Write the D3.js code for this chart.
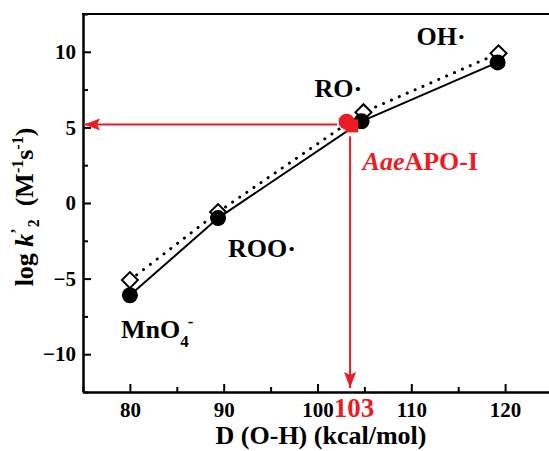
<!DOCTYPE html>
<html>
<head>
<meta charset="utf-8">
<script src="https://cdn.jsdelivr.net/npm/d3@7"></script>
<style>
  html, body { margin: 0; padding: 0; background: #fff; }
  svg { display: block; font-family: "Liberation Serif", "Times New Roman", serif; font-weight: bold; }
</style>
</head>
<body>
<svg id="chart" width="549" height="451"></svg>
<script>
// O-H bond energies (kcal/mol) and rate constants
const species = ['MnO4-', 'ROO·', 'RO·', 'OH·'];
const bdeCircle = [80, 89.4, 104.7, 119.2];
const logkCircle = [-6.1, -1.0, 5.4, 9.3];
const bdeDiamond = [80, 89.4, 104.9, 119.3];
const logkDiamond = [-5.1, -0.6, 6.0, 9.9];

// AaeAPO-I estimate
const enzymeBde = [103.1, 103.65];
const enzymeLogk = [5.38, 5.1];
const arrowAt = { x: 103.47, y: 5.2 };

const xMajor = [80, 90, 100, 110, 120];
const xMinor = [75, 85, 95, 105, 115, 125];
const yMajor = [-10, -5, 0, 5, 10];
const yMinor = [-12.5, -7.5, -2.5, 2.5, 7.5, 12.5];

const red = '#ed1c24';
const margin = { top: 14, left: 83 };
const width = 469, height = 378;

const svg = d3.select('#chart');
const g = svg.append('g').attr('transform', `translate(${margin.left},${margin.top})`);

const x = d3.scaleLinear().domain([75, 125]).range([0, width]);
const y = d3.scaleLinear().domain([-12.5, 12.5]).range([height, 0]);

// axes, ticks pointing inward
function styleAxis(sel) {
  sel.selectAll('path, line').attr('stroke', '#000').attr('stroke-width', 2);
  sel.selectAll('text').attr('fill', '#000').style('font-size', '21px')
    .style('font-family', '"Liberation Serif", "Times New Roman", serif').style('font-weight', 'bold');
}

g.append('g')
  .call(d3.axisLeft(y).tickValues(yMinor).tickSizeInner(-5).tickSizeOuter(0).tickFormat(''))
  .call(styleAxis);
g.append('g')
  .call(d3.axisLeft(y).tickValues(yMajor).tickSizeInner(-8).tickSizeOuter(0).tickPadding(7).tickFormat(d3.format('d')))
  .call(styleAxis);

g.append('g').attr('transform', `translate(0,${height})`)
  .call(d3.axisBottom(x).tickValues(xMinor).tickSizeInner(-5).tickSizeOuter(0).tickFormat(''))
  .call(styleAxis);
g.append('g').attr('transform', `translate(0,${height})`)
  .call(d3.axisBottom(x).tickValues(xMajor).tickSizeInner(-8).tickSizeOuter(0).tickPadding(10).tickFormat(d3.format('d')))
  .call(styleAxis);

// top frame line
g.append('line')
  .attr('x1', -1).attr('x2', width).attr('y1', 0).attr('y2', 0)
  .attr('stroke', '#000').attr('stroke-width', 2);

// red guide arrows
svg.append('defs').append('marker')
  .attr('id', 'arrow').attr('viewBox', '0 0 16 12')
  .attr('refX', 16).attr('refY', 6)
  .attr('markerWidth', 16).attr('markerHeight', 12)
  .attr('markerUnits', 'userSpaceOnUse').attr('orient', 'auto')
  .append('path').attr('d', 'M0,0 L16,6 L0,12 L3,6 Z').attr('fill', red);

g.append('line')
  .attr('x1', x(arrowAt.x) - 13).attr('x2', 1)
  .attr('y1', y(arrowAt.y)).attr('y2', y(arrowAt.y))
  .attr('stroke', red).attr('stroke-width', 2).attr('marker-end', 'url(#arrow)');
g.append('line')
  .attr('x1', x(arrowAt.x)).attr('x2', x(arrowAt.x))
  .attr('y1', y(arrowAt.y) + 12).attr('y2', height - 4)
  .attr('stroke', red).attr('stroke-width', 2).attr('marker-end', 'url(#arrow)');

// series
const circles = bdeCircle.map((v, i) => ({ x: v, y: logkCircle[i], name: species[i] }));
const diamonds = bdeDiamond.map((v, i) => ({ x: v, y: logkDiamond[i] }));
const line = d3.line().x(d => x(d.x)).y(d => y(d.y));

g.append('path').datum(diamonds).attr('d', line)
  .attr('fill', 'none').attr('stroke', '#000').attr('stroke-width', 3)
  .attr('stroke-linecap', 'round').attr('stroke-dasharray', '0.1,8.5');
g.append('path').datum(circles).attr('d', line)
  .attr('fill', 'none').attr('stroke', '#000').attr('stroke-width', 2);

g.selectAll('path.diamond').data(diamonds).enter().append('path')
  .attr('class', 'diamond')
  .attr('d', d3.symbol().type(d3.symbolSquare).size(128))
  .attr('transform', d => `translate(${x(d.x)},${y(d.y)}) rotate(45)`)
  .attr('fill', '#fff').attr('stroke', '#000').attr('stroke-width', 2);

g.selectAll('circle.pt').data(circles).enter().append('circle')
  .attr('class', 'pt')
  .attr('cx', d => x(d.x)).attr('cy', d => y(d.y)).attr('r', 8)
  .attr('fill', '#000');

// enzyme marker: circle + square
g.append('circle')
  .attr('cx', x(enzymeBde[0])).attr('cy', y(enzymeLogk[0])).attr('r', 8)
  .attr('fill', red);
g.append('rect')
  .attr('x', x(enzymeBde[1]) - 6.5).attr('y', y(enzymeLogk[1]) - 6.5)
  .attr('width', 13).attr('height', 13).attr('fill', red);

// species labels
const labelOffsets = [[-9, 43], [10, 39], [-47, -24], [-81, -17]];
circles.forEach((d, i) => {
  const t = g.append('text')
    .attr('x', x(d.x) + labelOffsets[i][0])
    .attr('y', y(d.y) + labelOffsets[i][1])
    .style('font-size', '26px').attr('fill', '#000');
  if (d.name === 'MnO4-') {
    t.append('tspan').text('MnO');
    t.append('tspan').attr('dy', 9).style('font-size', '17px').text('4');
    t.append('tspan').attr('dx', -1).attr('dy', -20).style('font-size', '17px').text('-');
  } else {
    t.text(d.name);
  }
});

const enzymeLabel = g.append('text')
  .attr('x', x(enzymeBde[0]) + 16).attr('y', y(enzymeLogk[0]) + 48)
  .style('font-size', '26px').attr('fill', red);
enzymeLabel.append('tspan').style('font-style', 'italic').text('Aae');
enzymeLabel.append('tspan').text('APO-I');

g.append('text')
  .attr('x', x(arrowAt.x) + 4).attr('y', height + 25)
  .attr('text-anchor', 'middle')
  .style('font-size', '27px').attr('fill', red)
  .text('103');

// axis titles
svg.append('text')
  .attr('x', 321).attr('y', 444).attr('text-anchor', 'middle')
  .style('font-size', '26px')
  .text('D (O-H) (kcal/mol)');

const yt = svg.append('text')
  .attr('transform', 'translate(33,207) rotate(-90)')
  .attr('text-anchor', 'middle')
  .style('font-size', '26px');
yt.append('tspan').text('log ');
yt.append('tspan').style('font-style', 'italic').text('k');
yt.append('tspan').attr('dy', -11).style('font-size', '16px').text('\u2019');
yt.append('tspan').attr('dy', 17).attr('dx', 1).style('font-size', '16px').text('2');
yt.append('tspan').attr('dy', -6).text('\u00a0\u00a0(M');
yt.append('tspan').attr('dy', -10).style('font-size', '16px').text('-1');
yt.append('tspan').attr('dy', 10).text('s');
yt.append('tspan').attr('dy', -10).style('font-size', '16px').text('-1');
yt.append('tspan').attr('dy', 10).text(')');
</script>
</body>
</html>
